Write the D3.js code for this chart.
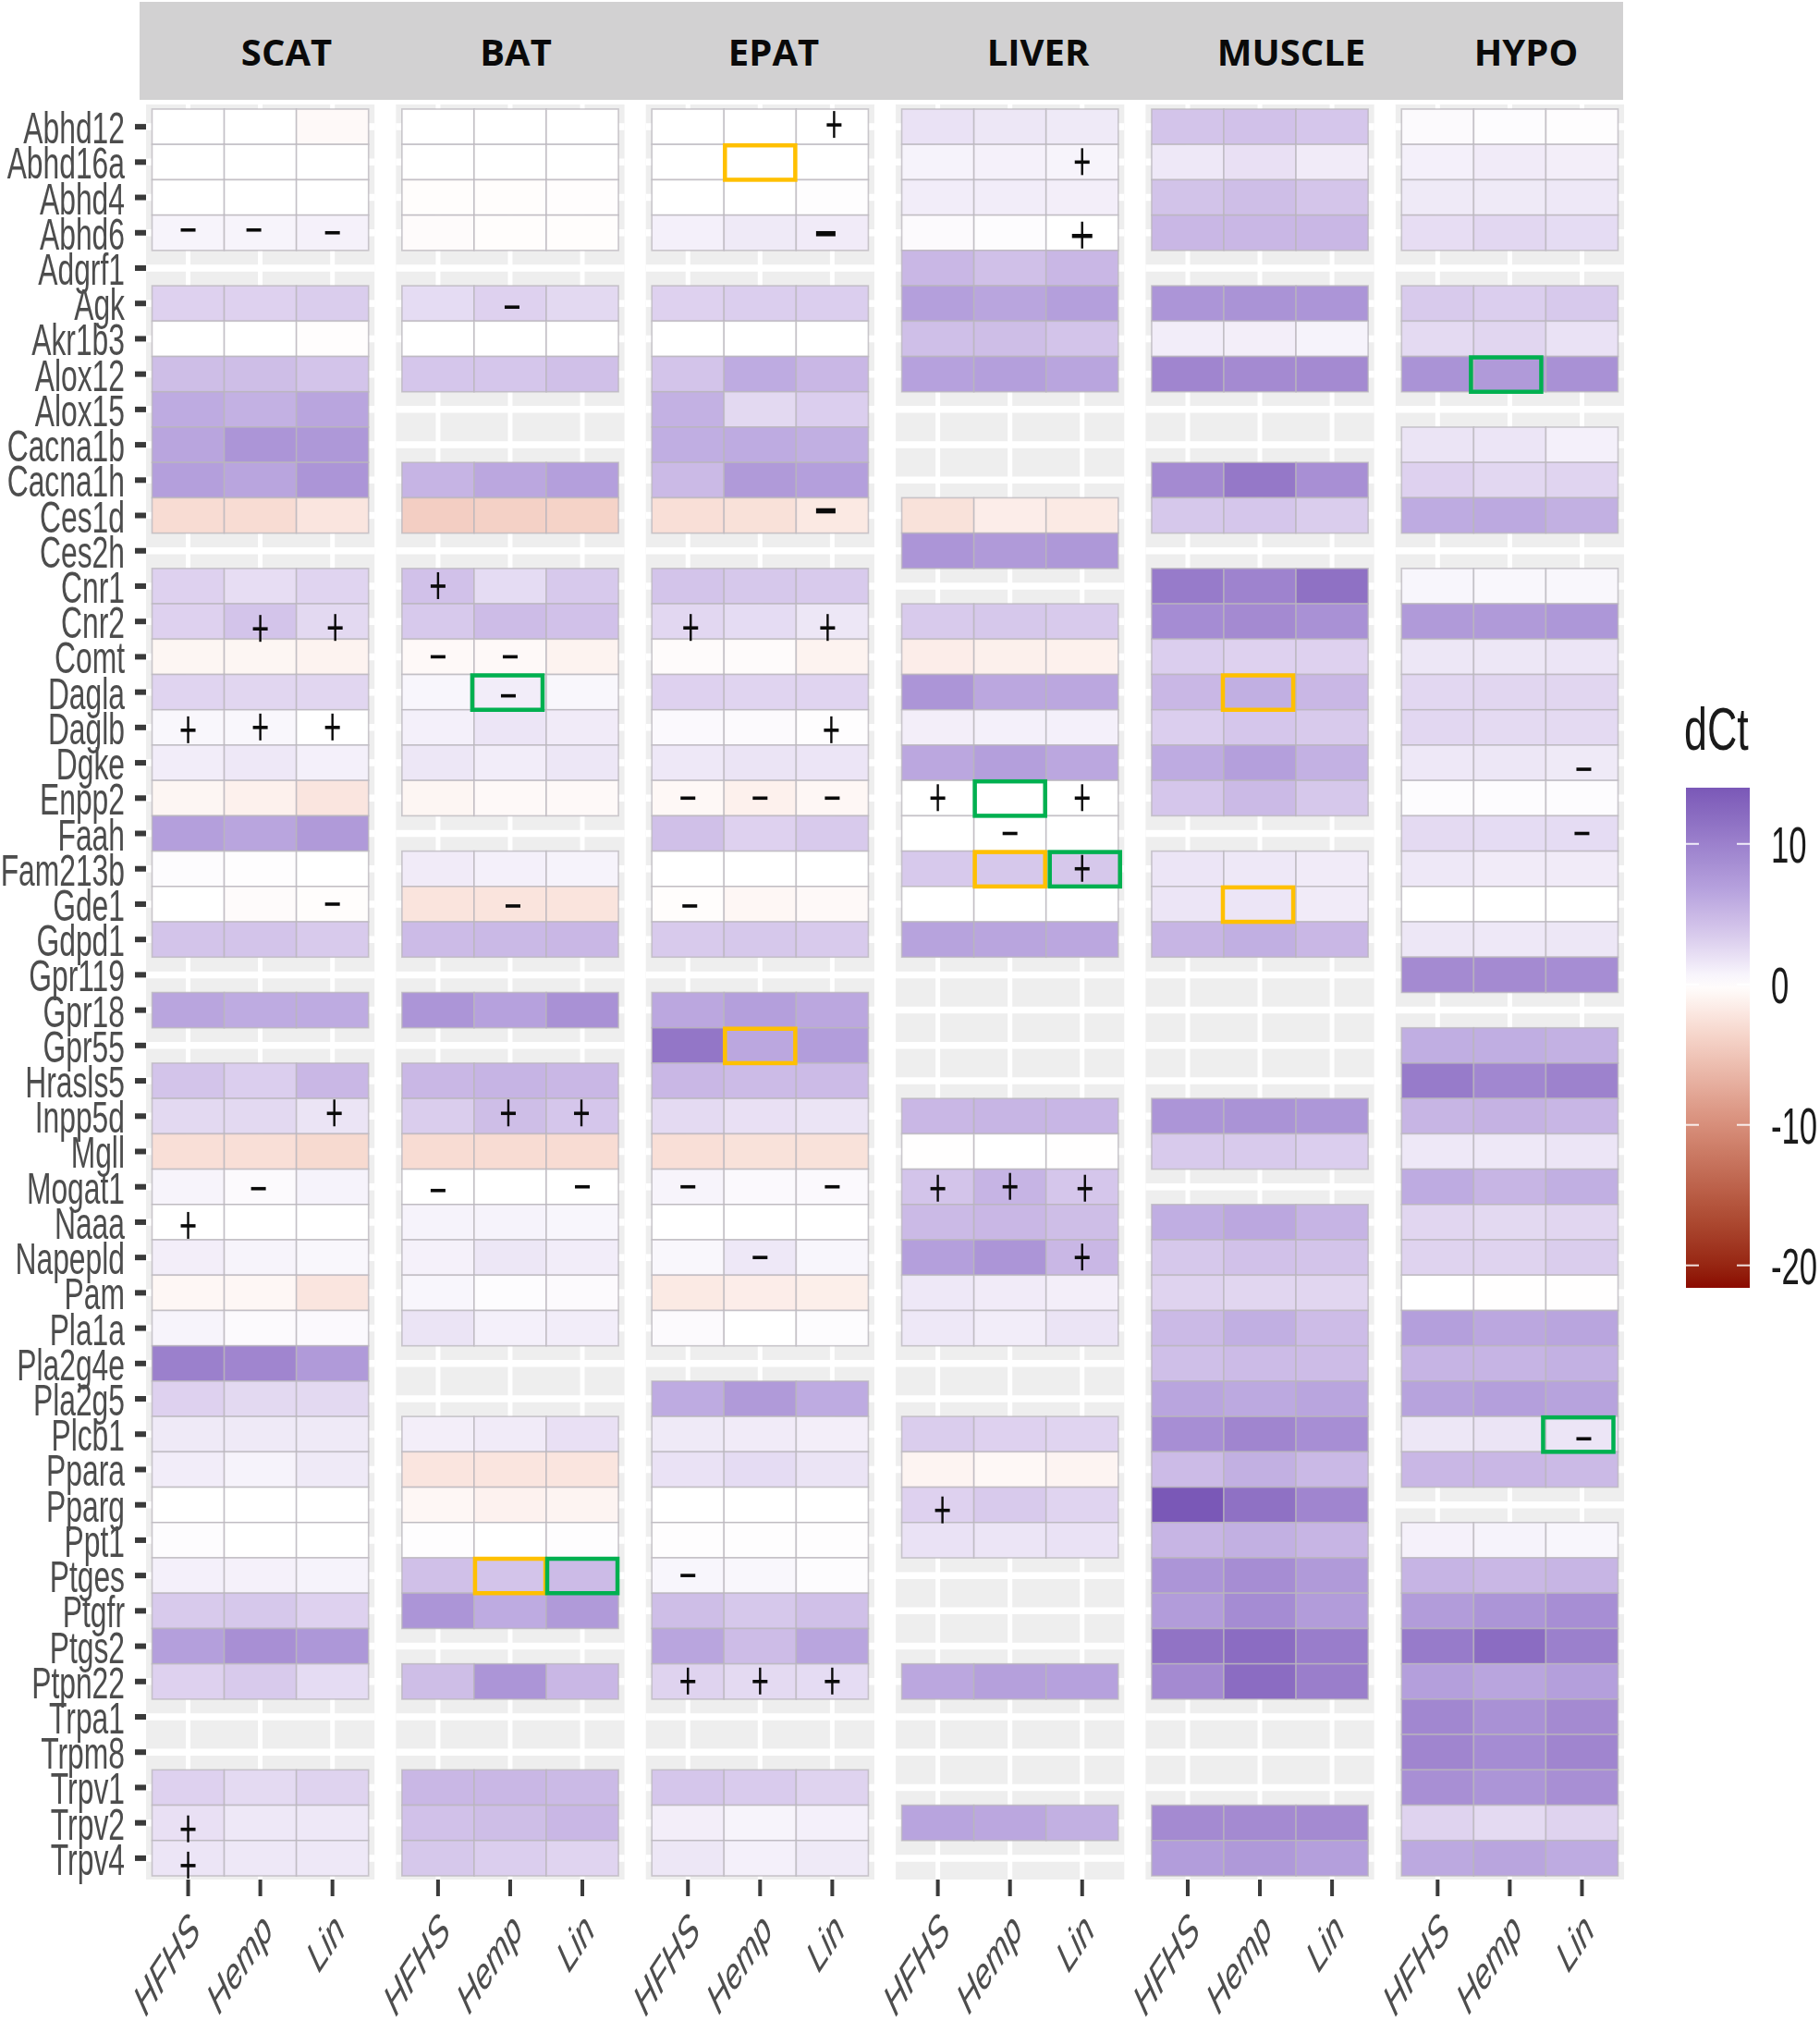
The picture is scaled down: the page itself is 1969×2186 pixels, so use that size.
<!DOCTYPE html>
<html><head><meta charset="utf-8">
<script src="https://cdn.jsdelivr.net/npm/d3@7"></script>
<style>html,body{margin:0;padding:0;background:#fff}svg{display:block;filter:blur(.6px)}</style>
</head><body><svg id="c" width="1969" height="2186"></svg>
<script>
const panels=["SCAT","BAT","EPAT","LIVER","MUSCLE","HYPO"];
const diets=["HFHS","Hemp","Lin"];
const genes=["Abhd12","Abhd16a","Abhd4","Abhd6","Adgrf1","Agk","Akr1b3","Alox12","Alox15","Cacna1b","Cacna1h","Ces1d","Ces2h","Cnr1","Cnr2","Comt","Dagla","Daglb","Dgke","Enpp2","Faah","Fam213b","Gde1","Gdpd1","Gpr119","Gpr18","Gpr55","Hrasls5","Inpp5d","Mgll","Mogat1","Naaa","Napepld","Pam","Pla1a","Pla2g4e","Pla2g5","Plcb1","Ppara","Pparg","Ppt1","Ptges","Ptgfr","Ptgs2","Ptpn22","Trpa1","Trpm8","Trpv1","Trpv2","Trpv4"];
const legendTicks=[10,0,-10,-20];
const _=null;
const SCAT=[[0,0,-.5],[0,0,0],[0,0,0],[.7,.7,.9],_,[3,3,3.3],[0,0,-.15],[4.5,4.5,4],[6,5.5,6.5],[6.5,8,7.7],[7,6.5,8],[-3,-3,-2.2],_,[3,2.2,2.8],[3,4,2.5],[-.8,-.8,-1],[2.8,2.7,2.7],[.5,.5,0],[1.2,1.5,1],[-.8,-1.2,-2.2],[7,6.5,7.5],[.2,.1,0],[0,-.3,-.2],[4,4,3.5],_,[6.5,6,6],_,[4,3.2,5],[2.5,2.5,1.8],[-2.7,-2.7,-3.2],[.7,.3,.8],[0,0,0],[1.1,.7,.5],[-.7,-.7,-2.2],[.7,.3,.4],[10,9.5,7.5],[3,2.5,2.5],[1.4,1.4,1.4],[1.2,.8,1.4],[0,0,0],[.2,0,0],[1,.9,.8],[3.5,3.7,3],[7,8.5,7.8],[3,3.5,2.3],_,_,[3,2.4,2.9],[2,1.5,1.5],[1.7,1.5,1.5]];
const BAT=[[0,0,0],[0,0,0],[-.2,-.2,-.15],[-.3,-.2,-.2],_,[2.3,3,2.5],[0,0,0],[3.8,3.8,4.3],_,_,[5.3,6.3,7],[-4.2,-4,-3.8],_,[4.2,2.3,3.6],[3.6,4.6,4.2],[-.5,-.5,-1],[.6,1.2,.5],[1,1.7,1.3],[1.6,1.2,1.6],[-.8,-.5,-.5],_,[1.3,1,.8],[-2.3,-2.3,-2.3],[4.7,4.9,5],_,[8,6.8,8.3],_,[5,5.3,5],[3.3,4.5,3.8],[-3,-3,-3],[0,0,0],[.8,.8,.6],[.9,1.6,1.2],[.6,.2,.3],[1.8,1,1.2],_,_,[1.1,1.3,2],[-2.2,-2.2,-2.2],[-.7,-1.1,-.9],[.1,0,.1],[4.3,4,4.7],[8,6,7.5],_,[4.5,8,5],_,_,[5,5,4.8],[4.2,4.5,5],[3.7,3.2,2.8]];
const EPAT=[[0,0,0],[0,0,0],[0,0,.1],[1,1.4,1.3],_,[3,3.2,3.2],[0,0,0],[4,6,5],[5.5,2.5,3.2],[5.8,6,5.7],[4.8,7.5,7],[-2.7,-2.6,-1.9],_,[4,3.7,3.5],[2.6,2.3,1.6],[-.3,-.3,-1],[3,2.8,2.8],[.4,.3,.1],[1.5,1.8,1.7],[-.6,-1.2,-.7],[4.3,3,3.5],[0,0,0],[-.2,-.7,-.5],[3.5,3.7,3.5],_,[6.3,7,6.3],[11,6.3,7.2],[5,4.7,4.7],[2.4,2,1.8],[-2.7,-2.5,-2.5],[.7,.4,.4],[0,0,0],[.5,1.5,.6],[-1.8,-1.5,-1.4],[.3,0,.2],_,[6,7.5,6],[1.4,1.3,1.1],[1.9,2.3,1.8],[0,0,0],[.1,.1,.1],[.6,.5,.2],[4.5,3.7,4.3],[6.5,4.6,6.5],[2.9,2.4,2.3],_,_,[3.8,3.4,2.9],[1.1,.7,1],[1.6,1,1.4]];
const LIVER=[[1.9,1.6,1.4],[.8,.9,.7],[1.2,1.2,1.1],[.3,.2,0],[5,4.3,5],[7,6.5,7],[4.4,4.5,4],[6.8,7,6.5],_,_,_,[-2.5,-1.5,-1.8],[8,7.5,7.7],_,[3.5,3.7,3.5],[-1.5,-1.3,-1.2],[8,6.3,6.3],[1.1,1,1],[6.3,7,6.3],[0,0,0],[0,0,0],[3.6,3.7,3.7],[0,0,0],[6.7,6.5,6.3],_,_,_,_,[5,5.2,5.1],[-.1,0,-.1],[4,5.3,3.8],[4.8,5,4.5],[7,8,5],[1.5,1.3,1.1],[1.5,1.2,1.8],_,_,[3.3,3,2.8],[-.9,-.6,-.9],[3,3.5,2.8],[1.9,1.7,1.9],_,_,_,[6.3,6.9,6.8],_,_,_,[6.6,6.3,5.6],_];
const MUSCLE=[[4,4.2,3.8],[1.5,2,1.3],[4.1,4.5,3.9],[5,5,5],_,[8,8.2,8],[1.2,1.1,.8],[9.5,9,9],_,_,[9,10.8,8.5],[3.7,3.8,3.3],_,[10.5,9.7,11.5],[8.8,9,8.3],[3.2,3,3],[5,5.7,5],[3.2,3.8,3.5],[6,7,5.5],[3.8,4.8,3.7],_,[1.7,1.5,1.3],[1.7,1.7,1.3],[5.2,5.7,5],_,_,_,_,[8,8.2,7.8],[3.5,3.5,3.2],_,[5.8,6.3,5.3],[3.7,4.2,4],[2.9,2.7,2.7],[4.8,5.7,4.6],[4.4,4.7,4.6],[6.5,6.2,6.5],[8.6,9.5,8.6],[4.7,5.6,4.9],[14,11.5,9.5],[5.2,5.6,5.2],[8,8.7,7.5],[7.3,8.8,7.3],[11.3,12,10.3],[9,12,10.2],_,_,_,[9,9,9],[7.2,7.6,7]];
const HYPO=[[.3,.2,.1],[1,1.3,1.1],[1.4,1.4,1.5],[2.2,2.6,2.3],_,[3.5,3.2,3.6],[2.4,2.7,1.9],[8.2,7.5,8.3],_,[1.8,1.7,1],[3,2.6,2.8],[6,6.2,5.6],_,[.6,.5,.5],[7.5,7.5,7.8],[1.6,1.6,1.7],[2.6,2.7,2.7],[2.6,2.4,2.4],[1.5,1.6,1.4],[.2,.2,.2],[2.4,2.3,2.3],[1.5,1.3,1.3],[0,0,0],[1.6,1.5,1.6],[9,9,8.7],_,[5.8,5.8,5.5],[10.5,9.3,9.8],[5.2,5.4,5.1],[1.5,1.5,1.7],[6,5.2,5.7],[2.7,2.5,2.7],[2.9,2.9,3.3],[0,-.1,-.1],[7,6.3,6.5],[5.3,5.3,5.5],[6.7,7,6.7],[1.6,1.8,1.7],[5,5,4.8],_,[.9,.8,.6],[5.3,5,5.2],[7.3,8,8.6],[10.5,12,10],[7,6.5,7],[9.3,8.3,9],[9.5,8.8,9.5],[8.5,8,8.5],[2.9,2.4,2.9],[6.2,6.5,6]];
const tableByPanel={SCAT,BAT,EPAT,LIVER,MUSCLE,HYPO};

const plusMarks=[["SCAT","Cnr2","Hemp"],["SCAT","Cnr2","Lin"],["SCAT","Daglb","HFHS"],["SCAT","Daglb","Hemp"],["SCAT","Daglb","Lin"],["SCAT","Inpp5d","Lin"],["SCAT","Naaa","HFHS"],["SCAT","Trpv2","HFHS"],["SCAT","Trpv4","HFHS"],
["BAT","Cnr1","HFHS"],["BAT","Inpp5d","Hemp"],["BAT","Inpp5d","Lin"],
["EPAT","Abhd12","Lin"],["EPAT","Cnr2","HFHS"],["EPAT","Cnr2","Lin"],["EPAT","Daglb","Lin"],["EPAT","Ptpn22","HFHS"],["EPAT","Ptpn22","Hemp"],["EPAT","Ptpn22","Lin"],
["LIVER","Abhd16a","Lin"],["LIVER","Abhd6","Lin"],["LIVER","Enpp2","HFHS"],["LIVER","Enpp2","Lin"],["LIVER","Fam213b","Lin"],["LIVER","Mogat1","HFHS"],["LIVER","Mogat1","Hemp"],["LIVER","Mogat1","Lin"],["LIVER","Napepld","Lin"],["LIVER","Pparg","HFHS"]];
const minusMarks=[["SCAT","Abhd6","HFHS"],["SCAT","Abhd6","Hemp"],["SCAT","Abhd6","Lin"],["SCAT","Gde1","Lin"],["SCAT","Mogat1","Hemp"],
["BAT","Agk","Hemp"],["BAT","Comt","HFHS"],["BAT","Comt","Hemp"],["BAT","Dagla","Hemp"],["BAT","Gde1","Hemp"],["BAT","Mogat1","HFHS"],["BAT","Mogat1","Lin"],
["EPAT","Abhd6","Lin"],["EPAT","Ces1d","Lin"],["EPAT","Enpp2","HFHS"],["EPAT","Enpp2","Hemp"],["EPAT","Enpp2","Lin"],["EPAT","Gde1","HFHS"],["EPAT","Mogat1","HFHS"],["EPAT","Mogat1","Lin"],["EPAT","Napepld","Hemp"],["EPAT","Ptges","HFHS"],
["LIVER","Faah","Hemp"],
["HYPO","Dgke","Lin"],["HYPO","Faah","Lin"],["HYPO","Plcb1","Lin"]];
const boldMarks=["EPAT|Abhd6|Lin","EPAT|Ces1d|Lin","LIVER|Abhd6|Lin"];
const yellowBoxes=[["EPAT","Abhd16a","Hemp"],["MUSCLE","Dagla","Hemp"],["LIVER","Fam213b","Hemp"],["MUSCLE","Gde1","Hemp"],["EPAT","Gpr55","Hemp"],["BAT","Ptges","Hemp"]];
const greenBoxes=[["BAT","Dagla","Hemp"],["HYPO","Alox12","Hemp"],["LIVER","Enpp2","Hemp"],["LIVER","Fam213b","Lin"],["HYPO","Plcb1","Lin"],["BAT","Ptges","Lin"]];
const markNudge={"SCAT|Abhd6|Hemp":[-7,-3],"SCAT|Abhd6|HFHS":[0,-3],"EPAT|Abhd6|Lin":[-7,1],"BAT|Agk|Hemp":[2,4],"EPAT|Ces1d|Lin":[-7,-5],"SCAT|Cnr2|Hemp":[0,8],"SCAT|Cnr2|Lin":[3,7],"EPAT|Cnr2|HFHS":[3,7],"EPAT|Cnr2|Lin":[-5,7],"SCAT|Naaa|HFHS":[0,4],"SCAT|Trpv2|HFHS":[0,7],"SCAT|Trpv4|HFHS":[0,8],"LIVER|Pparg|HFHS":[5,6],"HYPO|Dgke|Lin":[2,7],"HYPO|Plcb1|Lin":[2,5],"BAT|Dagla|Hemp":[-2,4],"BAT|Mogat1|HFHS":[0,4],"BAT|Gde1|Hemp":[3,2],"SCAT|Inpp5d|Lin":[2,-3],"BAT|Inpp5d|Hemp":[-2,-3],"BAT|Inpp5d|Lin":[-1,-3],"EPAT|Daglb|Lin":[-1,3],"EPAT|Gde1|HFHS":[2,2],"SCAT|Daglb|HFHS":[0,3],"LIVER|Abhd6|Lin":[0,3],"EPAT|Abhd12|Lin":[2,-2],"SCAT|Mogat1|Hemp":[-2,2],"LIVER|Mogat1|HFHS":[0,2],"LIVER|Mogat1|Lin":[3,2]};
const boxNudge={"HYPO|Alox12|Hemp":-4,"HYPO|Plcb1|Lin":-4,"LIVER|Fam213b|Lin":3,"BAT|Dagla|Hemp":-3,"MUSCLE|Dagla|Hemp":-2,"MUSCLE|Gde1|Hemp":-2};

const svg=d3.select("#c");
const color=d3.scaleLinear().domain([-21.6,-10,-3,0,3.5,7,14]).range(["#8b0a00","#d78e7a","#f8dcd3","#ffffff","#d8caec","#b49fdc","#7a58b7"]).interpolate(d3.interpolateLab);
const X=d3.scaleBand().domain(panels).range([164.5,1750.5]).paddingInner(.1337).paddingOuter(0);
const C=d3.scaleBand().domain(diets).range([0,X.bandwidth()]);
const Y=d3.scaleBand().domain(genes).range([118,2029]);
const bgTop=113,bgBottom=2033,pad=6.5;

// strip
svg.append("rect").attr("x",151).attr("y",2).attr("width",1605).attr("height",106).attr("fill","#d2d1d2");
const stripCenters={SCAT:310,BAT:558,EPAT:837,LIVER:1123,MUSCLE:1397,HYPO:1651};
svg.selectAll("text.strip").data(panels).join("text").attr("class","strip")
 .attr("x",d=>stripCenters[d]).attr("y",71).attr("text-anchor","middle")
 .attr("font-family","'Open Sans'").attr("font-weight",700).attr("font-size",40).attr("fill","#0a0a0a").text(d=>d);

// panels
panels.forEach(p=>{
  const g=svg.append("g").attr("transform",`translate(${X(p)},0)`);
  g.append("rect").attr("x",-pad).attr("y",bgTop).attr("width",X.bandwidth()+2*pad).attr("height",bgBottom-bgTop).attr("fill","#eeeeee");
  g.selectAll("line.gv").data(diets).join("line").attr("class","gv")
    .attr("x1",d=>C(d)+C.bandwidth()/2).attr("x2",d=>C(d)+C.bandwidth()/2).attr("y1",bgTop).attr("y2",bgBottom).attr("stroke","#fff").attr("stroke-width",5);
  g.selectAll("line.gh").data(genes).join("line").attr("class","gh")
    .attr("x1",-pad).attr("x2",X.bandwidth()+pad).attr("y1",d=>Y(d)+Y.bandwidth()/2).attr("y2",d=>Y(d)+Y.bandwidth()/2).attr("stroke","#fff").attr("stroke-width",7.5);
  const cells=[];
  tableByPanel[p].forEach((row,i)=>{ if(row) row.forEach((v,j)=>cells.push({gene:genes[i],diet:diets[j],v})); });
  g.selectAll("rect.t").data(cells).join("rect").attr("class","t")
    .attr("x",d=>C(d.diet)).attr("y",d=>Y(d.gene)).attr("width",C.bandwidth()).attr("height",Y.bandwidth())
    .attr("fill",d=>color(d.v)).attr("stroke","#b9b6bc").attr("stroke-opacity",.75).attr("stroke-width",1.6);
  // x ticks + labels
  g.selectAll("rect.xt").data(diets).join("rect").attr("class","xt")
    .attr("x",d=>C(d)+C.bandwidth()/2-2).attr("y",2033).attr("width",4).attr("height",18).attr("fill","#3a3a3a");
  g.selectAll("text.xl").data(diets).join("text").attr("class","xl")
    .attr("transform",d=>`translate(${C(d)+C.bandwidth()/2+15},2090) scale(.66,1) rotate(-45)`)
    .attr("text-anchor","end").attr("font-family","'Liberation Sans'").attr("font-style","italic").attr("font-size",48).attr("fill","#4d4d4d").text(d=>d);
});

// highlight boxes
function cellBox(sel,arr,col){
  sel.data(arr).join("rect").attr("x",d=>X(d[0])+C(d[2])+1+(boxNudge[d.join("|")]||0)).attr("y",d=>Y(d[1])+1)
   .attr("width",C.bandwidth()-2).attr("height",Y.bandwidth()-1).attr("fill","none").attr("stroke",col).attr("stroke-width",4.5);
}
cellBox(svg.append("g").selectAll("rect"),yellowBoxes,"#ffc000");
cellBox(svg.append("g").selectAll("rect"),greenBoxes,"#00b050");

// significance marks
const keyOf=d=>d.join("|");
const mx=d=>X(d[0])+C(d[2])+C.bandwidth()/2+(markNudge[keyOf(d)]||[0,0])[0];
const my=d=>Y(d[1])+Y.bandwidth()/2+(markNudge[keyOf(d)]||[0,0])[1];
const isBold=d=>boldMarks.includes(keyOf(d));
const gm=svg.append("g").attr("fill","#0a0a0a");
gm.selectAll("rect.pv").data(plusMarks).join("rect").attr("class","pv")
  .attr("x",d=>mx(d)-1.2).attr("y",d=>my(d)-15).attr("width",2.4).attr("height",29);
gm.selectAll("rect.ph").data(plusMarks).join("rect").attr("class","ph")
  .attr("x",d=>mx(d)-(isBold(d)?11:8)).attr("y",d=>my(d)-1.8).attr("width",d=>isBold(d)?22:16).attr("height",d=>isBold(d)?4.5:3.6);
gm.selectAll("rect.mn").data(minusMarks).join("rect").attr("class","mn")
  .attr("x",d=>mx(d)-(isBold(d)?10.5:8)).attr("y",d=>my(d)-(isBold(d)?2.8:1.8)).attr("width",d=>isBold(d)?21:16).attr("height",d=>isBold(d)?5.6:3.6);

// y axis
svg.selectAll("rect.yt").data(genes).join("rect").attr("class","yt")
 .attr("x",146).attr("y",d=>Y(d)+Y.bandwidth()/2-3).attr("width",12).attr("height",6).attr("fill","#3a3a3a");
svg.selectAll("text.yl").data(genes).join("text").attr("class","yl")
 .attr("transform",d=>`translate(135,${Y(d)+Y.bandwidth()/2+18}) scale(.67,1)`)
 .attr("text-anchor","end").attr("font-family","'Liberation Sans'").attr("font-size",47.5).attr("fill","#4d4d4d").text(d=>d);

// legend
const barTop=852,barBottom=1393;
const L=d3.scaleLinear().domain([14,-21.6]).range([barTop,barBottom]);
const grad=svg.append("defs").append("linearGradient").attr("id","lg").attr("x1",0).attr("x2",0).attr("y1",0).attr("y2",1);
grad.selectAll("stop").data(d3.range(0,41)).join("stop")
 .attr("offset",d=>d/40).attr("stop-color",d=>color(14-35.6*d/40));
svg.append("rect").attr("x",1824).attr("y",barTop).attr("width",69).attr("height",barBottom-barTop).attr("fill","url(#lg)");
svg.selectAll("rect.lt").data(legendTicks.flatMap(t=>[[t,1824],[t,1879]])).join("rect").attr("class","lt")
 .attr("x",d=>d[1]).attr("y",d=>L(d[0])-1).attr("width",14).attr("height",2).attr("fill","#fff").attr("fill-opacity",.85);
svg.selectAll("text.ll").data(legendTicks).join("text").attr("class","ll")
 .attr("transform",d=>`translate(1916,${L(d)+20}) scale(.62,1)`)
 .attr("font-family","'Liberation Sans'").attr("font-size",56).attr("fill","#1a1a1a").text(d=>d);
svg.append("text").attr("transform","translate(1822,811) scale(.7,1)")
 .attr("font-family","'Liberation Sans'").attr("font-size",64).attr("fill","#1a1a1a").text("dCt");
</script></body></html>
